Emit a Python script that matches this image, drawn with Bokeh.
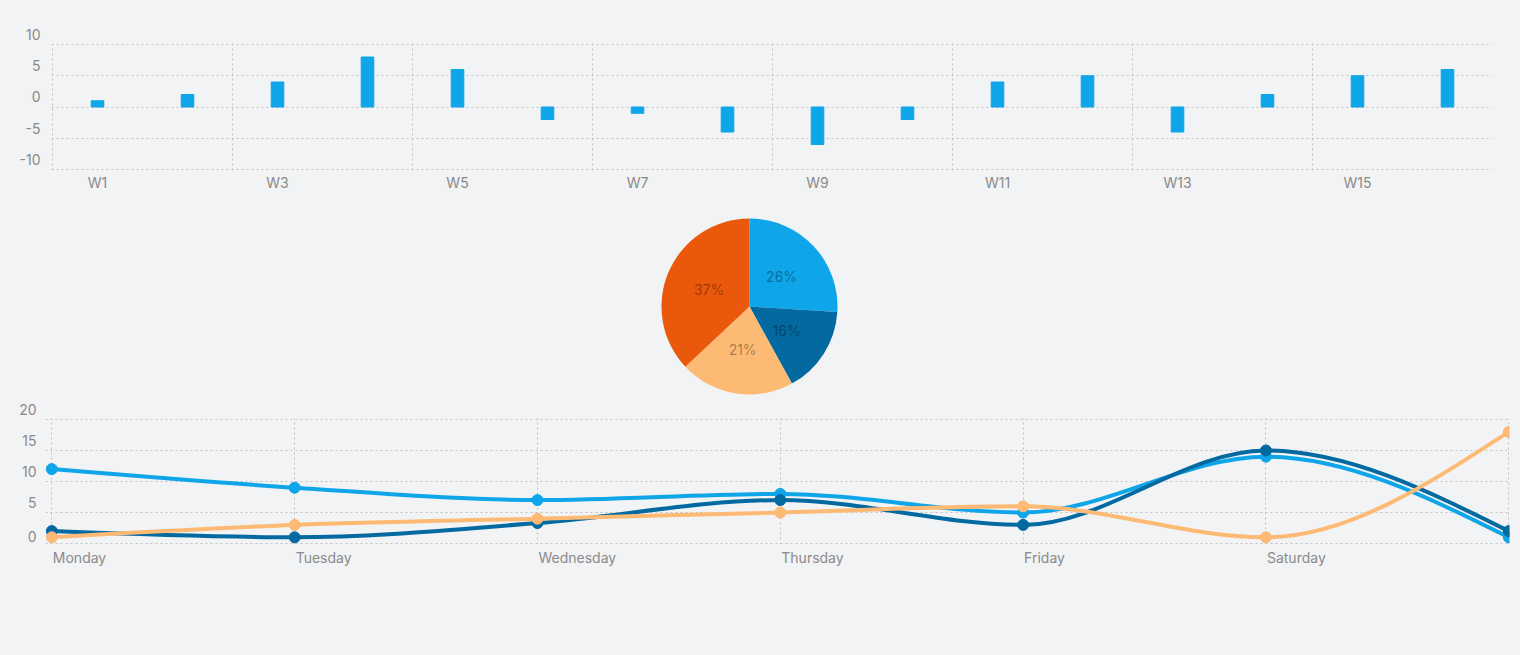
import math
from bokeh.plotting import figure
from bokeh.models import FixedTicker, Range1d
from bokeh.embed import file_html
from bokeh.resources import INLINE
from bokeh.core.properties import value

# ---------------- data ----------------
weeks = [f"W{i}" for i in range(1, 17)]
week_values = [1, 2, 4, 8, 6, -2, -1, -4, -6, -2, 4, 5, -4, 2, 5, 6]
bar_ticks = [-10, -5, 0, 5, 10]

pie_values = [26, 16, 21, 37]
pie_colors = ["#0ea5e9", "#0369a1", "#fdba74", "#ea580c"]

days = ["Monday", "Tuesday", "Wednesday", "Thursday", "Friday", "Saturday", "Sunday"]
series_light = [12, 9, 7, 8, 5, 14, 1]
series_dark = [2, 1, 3.3, 7, 3, 15, 2]
series_orange = [1, 3, 4, 5, 6, 1, 18]
line_ticks = [0, 5, 10, 15, 20]

# ---------------- style ----------------
BG = "#f2f3f5"
GRID = "#c0c0c0"
TXT = "#8a8a8a"
FONT = "Inter"
W = 1520


def base_fig(**kw):
    return figure(width=W, output_backend="svg", toolbar_location=None,
                  background_fill_color=BG, border_fill_color=BG, outline_line_color=None, **kw)


def style_axes(p):
    for ax in p.axis:
        ax.axis_line_color = None
        ax.major_tick_line_color = None
        ax.minor_tick_line_color = None
        ax.major_tick_out = 0
        ax.major_tick_in = 0
        ax.minor_tick_out = 0
        ax.minor_tick_in = 0
        ax.major_label_text_color = TXT
        ax.major_label_text_font = FONT
        ax.major_label_text_font_size = "14px"
    for g in p.grid:
        g.grid_line_color = GRID
        g.grid_line_dash = "2 3"
        g.grid_line_width = 1


# ---------------- top bar chart ----------------
top = base_fig(height=208, x_range=Range1d(-0.5 - 1 / 90, 15.5), y_range=Range1d(-10.16, 10.16),
               min_border_left=51, min_border_right=28, min_border_top=43, min_border_bottom=38)
xs = list(range(len(weeks)))
top.vbar(x=xs, top=week_values, bottom=0, width=0.14, fill_color="#0ea5e9", line_color="#0ea5e9")
top.xaxis.ticker = FixedTicker(ticks=xs[::2])
top.xaxis.major_label_overrides = {i: weeks[i] for i in xs[::2]}
top.xaxis.major_label_standoff = 3
top.xgrid.ticker = FixedTicker(ticks=[i - 0.5 for i in xs[::2]])
top.ygrid.ticker = FixedTicker(ticks=bar_ticks)
# an empty second line lifts each label above its grid line
top.yaxis.ticker = FixedTicker(ticks=bar_ticks)
top.yaxis.major_label_overrides = {t: f"{t}\n\u00a0" for t in bar_ticks}
top.yaxis.major_label_standoff = 11
style_axes(top)

# ---------------- pie ----------------
PH = 192
pie = base_fig(height=PH, x_range=Range1d(0, W), y_range=Range1d(0, PH),
               x_axis_location=None, y_axis_location=None, min_border=0)
pie.grid.visible = False
cx, cy, R = 749, 94, 88
total = sum(pie_values)
starts, ends, lx, ly, ltxt = [], [], [], [], []
acc = 0
for v in pie_values:
    a0 = math.pi / 2 - 2 * math.pi * acc / total
    acc += v
    a1 = math.pi / 2 - 2 * math.pi * acc / total
    starts.append(a0)
    ends.append(a1)
    mid = (a0 + a1) / 2
    lx.append(cx + 0.5 * R * math.cos(mid))
    ly.append(cy + 0.5 * R * math.sin(mid))
    ltxt.append(f"{round(100 * v / total)}%")
pie.wedge(x=cx, y=cy, radius=R, radius_units="screen", start_angle=starts, end_angle=ends,
          direction="clock", fill_color=pie_colors, line_color=None)
pie.text(x=lx, y=ly, text=ltxt, text_align="center", text_baseline="middle",
         text_color="black", text_alpha=0.36, text_font=value(FONT), text_font_size="14px")

# ---------------- line chart ----------------
line_x = Range1d(-0.026, 6.003)
bot = base_fig(height=144, x_range=line_x, y_range=Range1d(-0.16, 20.16),
               x_axis_location=None,
               min_border_left=45, min_border_right=11, min_border_top=18, min_border_bottom=0)
dx = list(range(len(days)))
bot.xgrid.ticker = FixedTicker(ticks=dx)
bot.ygrid.ticker = FixedTicker(ticks=line_ticks)
# lowest label: tick placed ~7px above its grid line (the frame ends at the zero line)
LIFT = 1.125
bot.yaxis.ticker = FixedTicker(ticks=[line_ticks[0] + LIFT] + line_ticks[1:])
overrides = {t: f"{t}\n\u00a0" for t in line_ticks[1:]}
overrides[line_ticks[0] + LIFT] = str(line_ticks[0])
bot.yaxis.major_label_overrides = overrides
bot.yaxis.major_label_standoff = 9
style_axes(bot)


def monotone_segments(x, y):
    n = len(x)
    h = [x[i + 1] - x[i] for i in range(n - 1)]
    s = [(y[i + 1] - y[i]) / h[i] for i in range(n - 1)]
    sgn = lambda v: -1 if v < 0 else 1
    t = [0.0] * n
    for i in range(1, n - 1):
        h0, h1, s0, s1 = h[i - 1], h[i], s[i - 1], s[i]
        p = (s0 * h1 + s1 * h0) / (h0 + h1)
        t[i] = (sgn(s0) + sgn(s1)) * min(abs(s0), abs(s1), 0.5 * abs(p))
    t[0] = (3 * s[0] - t[1]) / 2
    t[-1] = (3 * s[-1] - t[-2]) / 2
    seg = dict(x0=[], y0=[], x1=[], y1=[], cx0=[], cy0=[], cx1=[], cy1=[])
    for i in range(n - 1):
        d = h[i] / 3
        seg["x0"].append(x[i]); seg["y0"].append(y[i])
        seg["x1"].append(x[i + 1]); seg["y1"].append(y[i + 1])
        seg["cx0"].append(x[i] + d); seg["cy0"].append(y[i] + d * t[i])
        seg["cx1"].append(x[i + 1] - d); seg["cy1"].append(y[i + 1] - d * t[i + 1])
    return seg


for ys, col in [(series_light, "#0ea5e9"), (series_dark, "#0369a1"), (series_orange, "#fdba74")]:
    seg = monotone_segments(dx, ys)
    bot.bezier(line_color=col, line_width=4, **seg)
    bot.scatter(dx, ys, size=11, fill_color=col, line_color=col)

# day labels strip, sharing the line chart's x scale (labels start at their tick)
SH = 40
strip = base_fig(height=SH, x_range=line_x, y_range=Range1d(0, SH),
                 x_axis_location=None, y_axis_location=None,
                 min_border_left=45, min_border_right=11, min_border_top=0, min_border_bottom=0)
strip.grid.visible = False
strip.text(x=dx[:-1], y=[SH - 4] * (len(days) - 1), text=days[:-1], x_offset=1,
           text_align="left", text_baseline="top", text_color=TXT,
           text_font=value(FONT), text_font_size="14px")

html = file_html([top, pie, bot, strip], INLINE)
html = html.replace("<head>", "<head><style>html,body{background:%s;margin:0;}</style>" % BG, 1)
open("out.html", "w").write(html)
